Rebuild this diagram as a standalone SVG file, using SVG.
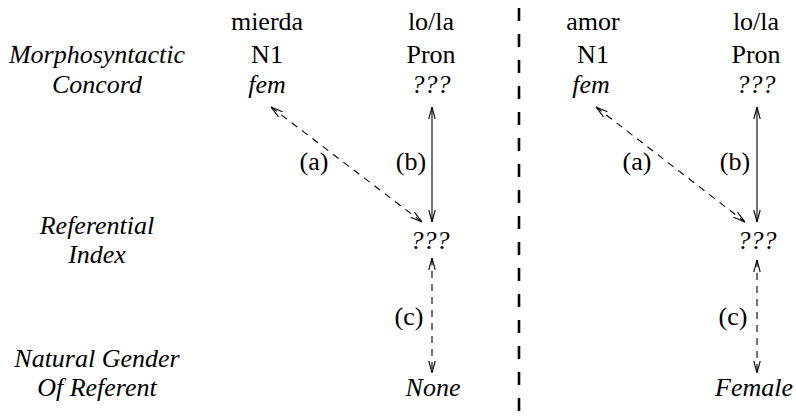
<svg xmlns="http://www.w3.org/2000/svg" width="796" height="416" viewBox="0 0 796 416">
<defs>
<style>
text{font-family:"Liberation Serif","Times New Roman",serif;font-size:26px;fill:#000;text-anchor:middle}
.i{font-style:italic}
.c{stroke:#000;stroke-width:1.1;fill:none}
.d{stroke-dasharray:7 6}
.sep{stroke:#000;stroke-width:2.6;stroke-dasharray:13 13;stroke-dashoffset:18;fill:none}
</style>
<marker id="ah" viewBox="0 0 12 10" refX="12" refY="5" markerWidth="12" markerHeight="10" markerUnits="userSpaceOnUse" orient="auto-start-reverse">
<path d="M0,1.8 L12,5 L0,8.2" fill="none" stroke="#000" stroke-width="1.1"/>
</marker>
</defs>
<rect width="796" height="416" fill="#fff"/>
<g id="labels">
<text class="i" x="97" y="63">Morphosyntactic</text>
<text class="i" x="97" y="93">Concord</text>
<text class="i" x="97" y="234">Referential</text>
<text class="i" x="97" y="263">Index</text>
<text class="i" x="97" y="367">Natural Gender</text>
<text class="i" x="97" y="396">Of Referent</text>
</g>
<g id="left-n1"><text x="267" y="30">mierda</text><text x="267" y="63">N1</text><text class="i" x="267" y="93">fem</text></g>
<g id="left-pron"><text x="431" y="30">lo/la</text><text x="431" y="63">Pron</text><text class="i" x="431" y="93">???</text></g>
<g id="left-ref"><text class="i" x="430" y="249">???</text></g>
<g id="left-gender"><text class="i" x="433" y="396">None</text></g>
<g id="right-n1"><text x="593" y="30">amor</text><text x="593" y="63">N1</text><text class="i" x="591" y="93">fem</text></g>
<g id="right-pron"><text x="756" y="30">lo/la</text><text x="756" y="63">Pron</text><text class="i" x="756" y="93">???</text></g>
<g id="right-ref"><text class="i" x="757" y="249">???</text></g>
<g id="right-gender"><text class="i" x="754" y="396">Female</text></g>
<g id="connectors">
<line class="sep" x1="519" y1="0" x2="519" y2="416"/>
<line class="c d" x1="271" y1="107" x2="422" y2="222" marker-start="url(#ah)" marker-end="url(#ah)"/>
<line class="c" x1="432" y1="107" x2="432" y2="222" marker-start="url(#ah)" marker-end="url(#ah)"/>
<line class="c d" x1="432" y1="258" x2="432" y2="373" marker-start="url(#ah)" marker-end="url(#ah)"/>
<line class="c d" x1="596" y1="107" x2="745" y2="222" marker-start="url(#ah)" marker-end="url(#ah)"/>
<line class="c" x1="757" y1="107" x2="757" y2="222" marker-start="url(#ah)" marker-end="url(#ah)"/>
<line class="c d" x1="757" y1="260" x2="757" y2="373" marker-start="url(#ah)" marker-end="url(#ah)"/>
<text x="314" y="170">(a)</text>
<text x="411" y="170">(b)</text>
<text x="409" y="325">(c)</text>
<text x="637" y="170">(a)</text>
<text x="735" y="170">(b)</text>
<text x="733" y="325">(c)</text>
</g>
</svg>
